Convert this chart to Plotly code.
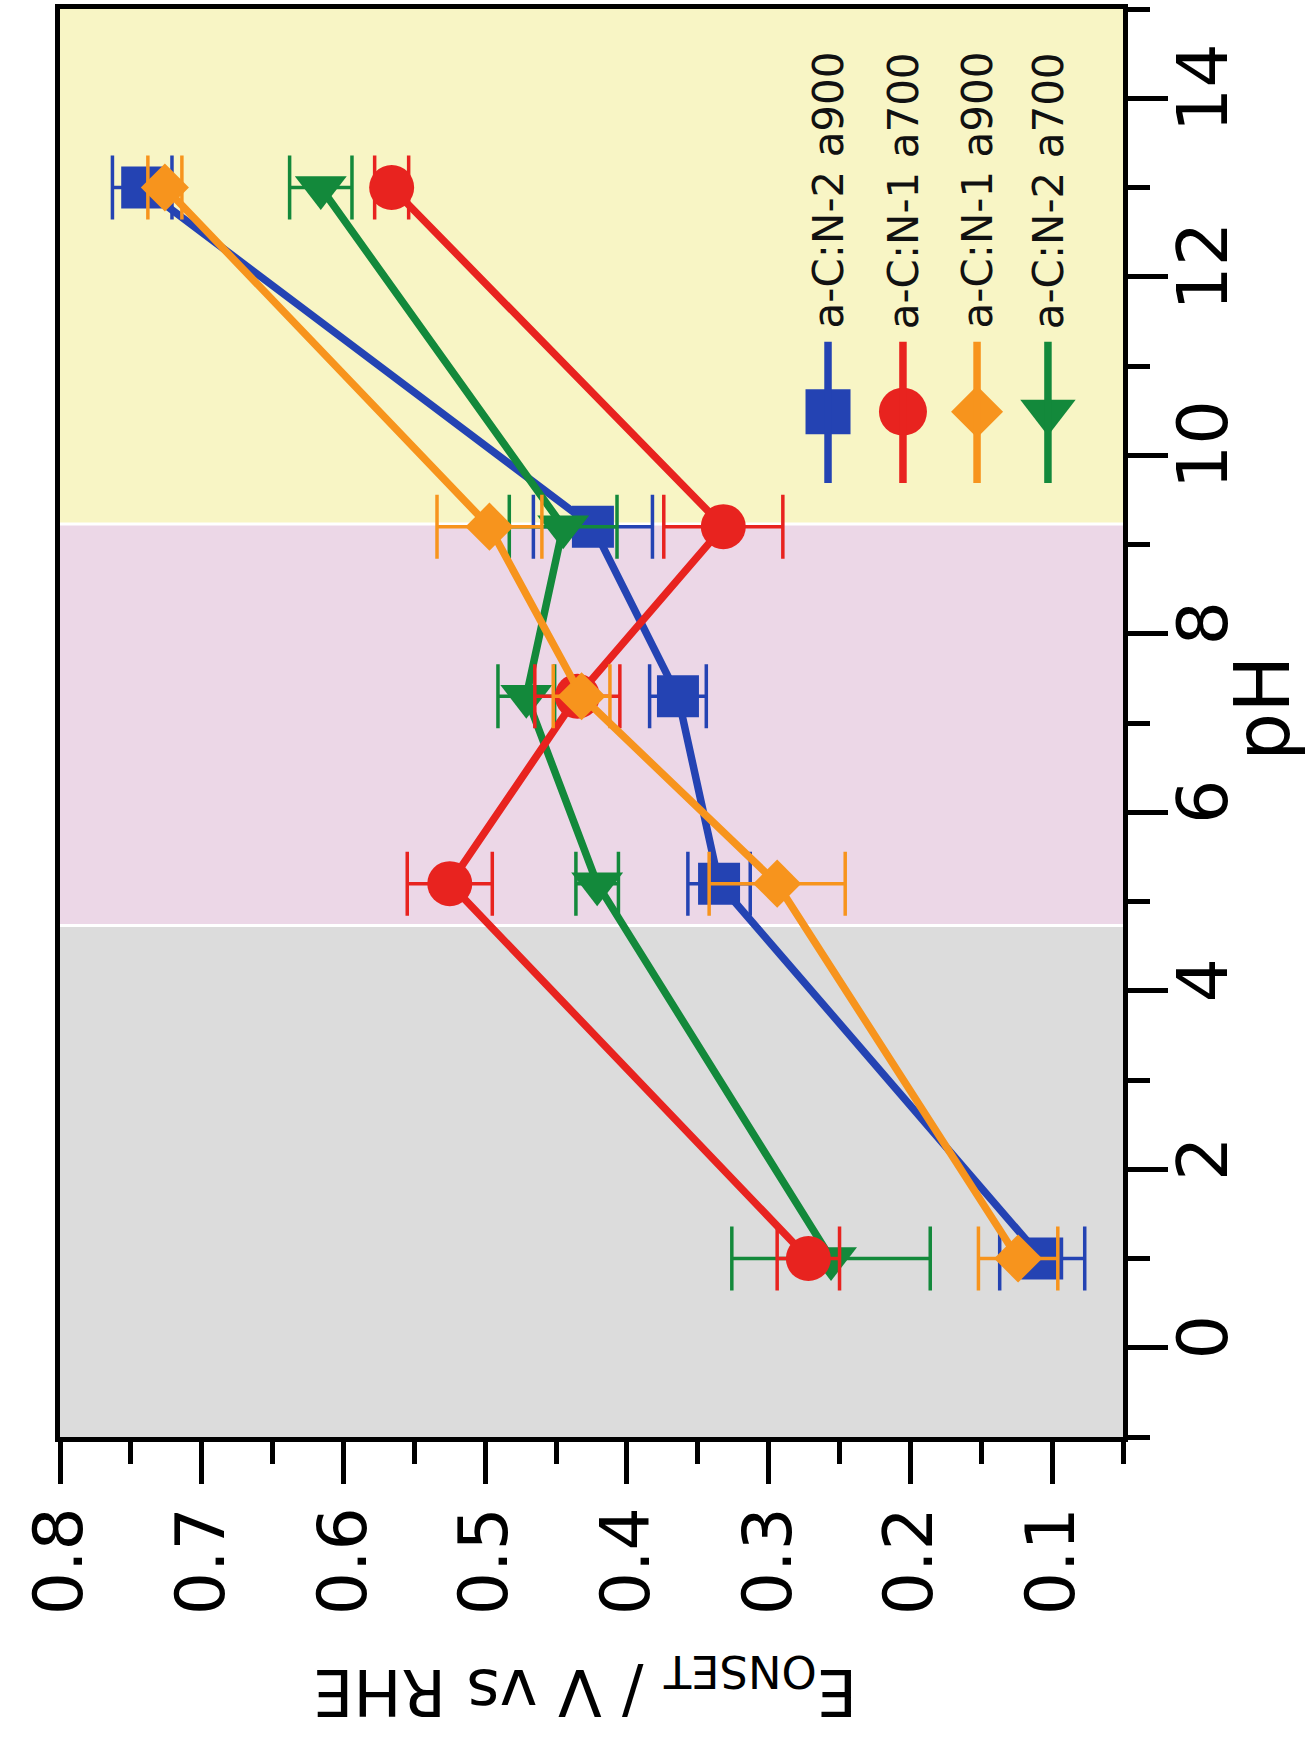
import plotly.graph_objects as go

# Measured onset potentials (V vs RHE) against electrolyte pH
ph = [1.0, 5.2, 7.3, 9.2, 13.0]

series_names = ["a-C:N-2 a900", "a-C:N-1 a700", "a-C:N-1 a900", "a-C:N-2 a700"]

e_cn2_a900 = [0.107, 0.335, 0.364, 0.424, 0.742]
err_cn2_a900 = [0.030, 0.022, 0.020, 0.042, 0.021]

e_cn1_a700 = [0.272, 0.525, 0.435, 0.332, 0.566]
err_cn1_a700 = [0.022, 0.030, 0.030, 0.042, 0.012]

e_cn1_a900 = [0.124, 0.294, 0.432, 0.497, 0.726]
err_cn1_a900 = [0.028, 0.048, 0.020, 0.037, 0.012]

e_cn2_a700 = [0.256, 0.421, 0.471, 0.445, 0.616]
err_cn2_a700 = [0.070, 0.015, 0.020, 0.038, 0.022]

# pH regions shaded behind the data: acidic, near-neutral, alkaline
region_edges = [-1.0, 4.73, 9.23, 15.0]
region_colors = ["#dcdcdc", "#ecd7e7", "#f8f5c5"]

x_ticks = [0.1, 0.2, 0.3, 0.4, 0.5, 0.6, 0.7, 0.8]
y_ticks = [0, 2, 4, 6, 8, 10, 12, 14]

colors = {
    "a-C:N-2 a900": "#2443b3",
    "a-C:N-1 a700": "#e8231f",
    "a-C:N-1 a900": "#f7941d",
    "a-C:N-2 a700": "#13893b",
}
symbols = {
    "a-C:N-2 a900": ("square", 42),
    "a-C:N-1 a700": ("circle", 45),
    "a-C:N-1 a900": ("diamond", 37),
    "a-C:N-2 a700": ("triangle-down", 45),
}
values = {
    "a-C:N-2 a900": (e_cn2_a900, err_cn2_a900),
    "a-C:N-1 a700": (e_cn1_a700, err_cn1_a700),
    "a-C:N-1 a900": (e_cn1_a900, err_cn1_a900),
    "a-C:N-2 a700": (e_cn2_a700, err_cn2_a700),
}

FONT = "DejaVu Sans, Verdana, sans-serif"

fig = go.Figure()

draw_order = ["a-C:N-2 a900", "a-C:N-2 a700", "a-C:N-1 a700", "a-C:N-1 a900"]
for name in draw_order:
    e, err = values[name]
    sym, size = symbols[name]
    fig.add_trace(go.Scatter(
        x=e, y=ph, name=name, mode="lines+markers",
        line=dict(color=colors[name], width=7.5),
        marker=dict(symbol=sym, size=size, color=colors[name], line=dict(width=0)),
        error_x=dict(type="data", array=err, visible=True, color=colors[name],
                     thickness=3.5, width=32),
        showlegend=False, cliponaxis=False,
    ))

# Background bands for the pH regions, separated by thin white lines
shapes = []
for lo, hi, col in zip(region_edges[:-1], region_edges[1:], region_colors):
    shapes.append(dict(type="rect", xref="paper", yref="y", x0=0, x1=1, y0=lo, y1=hi,
                       fillcolor=col, line=dict(width=0), layer="below"))
for edge in region_edges[1:-1]:
    shapes.append(dict(type="line", xref="paper", yref="y", x0=0, x1=1, y0=edge, y1=edge,
                       line=dict(color="white", width=3), layer="below"))

# Legend drawn vertically inside the alkaline band (text reads bottom-to-top)
legend_x = [0.7225, 0.793, 0.8627, 0.9294]
legend_marker_y = 0.718
legend_line_y = (0.668, 0.767)
legend_text_y = 0.7746

annotations = []
for name, lx in zip(series_names, legend_x):
    shapes.append(dict(type="line", xref="paper", yref="paper", x0=lx, x1=lx,
                       y0=legend_line_y[0], y1=legend_line_y[1],
                       line=dict(color=colors[name], width=7.5)))
    sym, size = symbols[name]
    fig.add_trace(go.Scatter(
        x=[lx], y=[legend_marker_y], xaxis="x2", yaxis="y2", mode="markers",
        marker=dict(symbol=sym, size=size + 3, color=colors[name], line=dict(width=0)),
        showlegend=False, hoverinfo="skip", cliponaxis=False,
    ))
    annotations.append(dict(text=name, xref="paper", yref="paper", x=lx, y=legend_text_y,
                            xanchor="center", yanchor="bottom", textangle=-90,
                            showarrow=False, font=dict(family=FONT, size=42, color="#111")))

# Axis titles, turned with the rest of the figure
annotations.append(dict(text="pH", xref="paper", yref="paper", x=1.131, y=0.51,
                        xanchor="center", yanchor="middle", textangle=-90, showarrow=False,
                        font=dict(family=FONT, size=76, color="black")))
annotations.append(dict(text="E<sub>ONSET</sub> / V vs RHE", xref="paper", yref="paper",
                        x=0.494, y=-0.175, xanchor="center", yanchor="middle",
                        textangle=180, showarrow=False,
                        font=dict(family=FONT, size=64, color="black")))

fig.update_layout(
    width=1310, height=1746,
    margin=dict(l=60, r=187, t=4, b=309),
    paper_bgcolor="white", plot_bgcolor="white",
    shapes=shapes, annotations=annotations,
    xaxis=dict(
        range=[0.8, 0.05], tickvals=x_ticks, tickformat=".1f",
        ticks="outside", ticklen=42, tickwidth=5, tickcolor="black",
        tickangle=-90, ticklabelstandoff=-4,
        tickfont=dict(family=FONT, size=68, color="black"),
        minor=dict(dtick=0.05, tick0=0.05, ticks="outside", ticklen=22, tickwidth=5,
                   tickcolor="black"),
        showline=True, linecolor="black", linewidth=5, mirror=True,
        showgrid=False, zeroline=False,
    ),
    yaxis=dict(
        range=[-1, 15], tickvals=y_ticks, side="right",
        ticks="outside", ticklen=40, tickwidth=5, tickcolor="black",
        tickangle=-90, ticklabelstandoff=-25,
        tickfont=dict(family=FONT, size=70, color="black"),
        minor=dict(dtick=1, tick0=1, ticks="outside", ticklen=22, tickwidth=5,
                   tickcolor="black"),
        showline=True, linecolor="black", linewidth=5, mirror=True,
        showgrid=False, zeroline=False,
    ),
    xaxis2=dict(range=[0, 1], overlaying="x", anchor="y2", visible=False),
    yaxis2=dict(range=[0, 1], overlaying="y", anchor="x2", visible=False),
)

fig.write_html("out.html")
